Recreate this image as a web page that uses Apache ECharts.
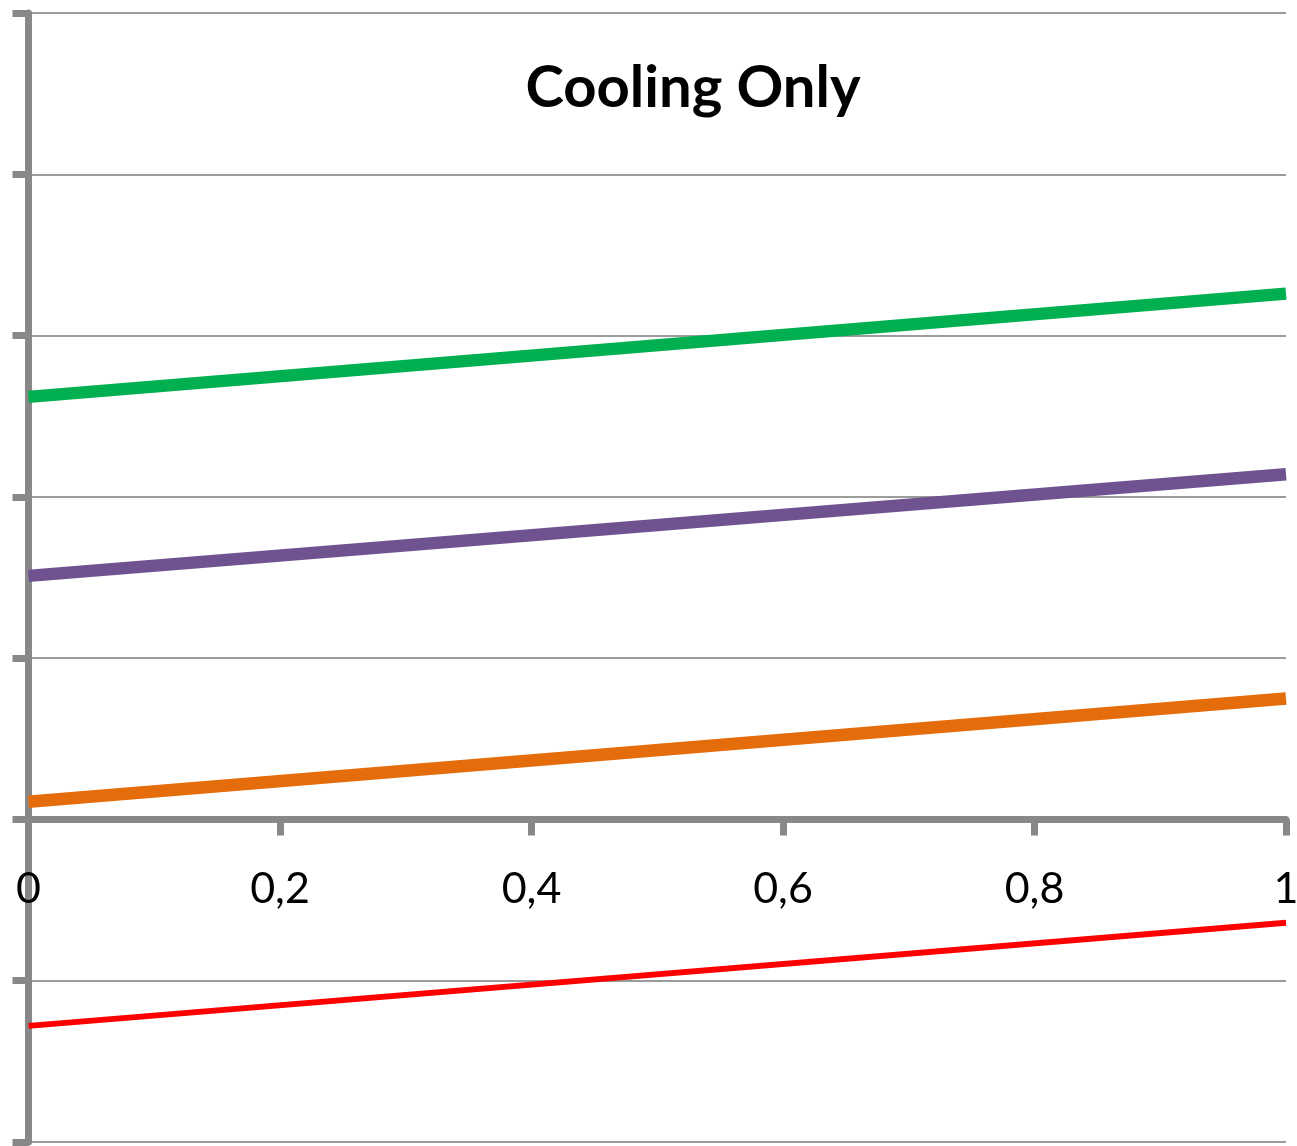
<!DOCTYPE html>
<html>
<head>
<meta charset="utf-8">
<title>Cooling Only</title>
<script src="https://cdn.jsdelivr.net/npm/echarts@6/dist/echarts.min.js"></script>
<style>
  html, body { margin: 0; padding: 0; background: #ffffff; }
  #chart { width: 1297px; height: 1146px; }
</style>
</head>
<body>
<div id="chart"></div>
<script>
// Shares on the horizontal axis (0 to 1)
const xValues = [0, 1];

// One line per series, values at x = 0 and x = 1
const greenValues = [2.62, 3.26];
const purpleValues = [1.51, 2.14];
const orangeValues = [0.11, 0.75];
const redValues = [-1.28, -0.64];

const titleText = 'Cooling Only';

function pairs(ys) {
  return xValues.map((x, i) => [x, ys[i]]);
}

const axisGrey = '#888888';
const yMin = -2;
const yMax = 5;
const gridTop = 13;
const gridBottom = 4;
const plotHeight = 1146 - gridTop - gridBottom;
// lift the horizontal axis from the grid bottom up to y = 0
const xAxisOffset = -plotHeight * (0 - yMin) / (yMax - yMin);

const chart = echarts.init(document.getElementById('chart'), null, { renderer: 'canvas' });

chart.setOption({
  backgroundColor: '#ffffff',
  animation: false,
  title: {
    text: titleText,
    left: 688,
    top: 54,
    textAlign: 'center',
    textStyle: {
      fontFamily: 'Lato',
      fontWeight: 'bold',
      fontSize: 58,
      color: '#000000'
    }
  },
  grid: {
    left: 28.5,
    right: 11,
    top: gridTop,
    bottom: gridBottom,
    containLabel: false,
    outerBoundsMode: 'none'
  },
  xAxis: {
    type: 'value',
    min: 0,
    max: 1,
    interval: 0.2,
    offset: xAxisOffset,
    axisLine: {
      show: true,
      onZero: false,
      lineStyle: { color: axisGrey, width: 7 }
    },
    axisTick: {
      show: true,
      inside: false,
      length: 16,
      lineStyle: { color: axisGrey, width: 7 }
    },
    axisLabel: {
      show: true,
      margin: 48,
      fontFamily: 'Lato',
      fontSize: 43,
      color: '#000000',
      formatter: v => String(+v.toFixed(1)).replace('.', ',')
    },
    splitLine: { show: false }
  },
  yAxis: {
    type: 'value',
    min: yMin,
    max: yMax,
    interval: 1,
    axisLine: {
      show: true,
      onZero: false,
      lineStyle: { color: axisGrey, width: 7 }
    },
    axisTick: {
      show: true,
      inside: false,
      length: 16,
      lineStyle: { color: axisGrey, width: 7 }
    },
    axisLabel: { show: false },
    splitLine: {
      show: true,
      lineStyle: { color: '#9c9c9c', width: 2 }
    }
  },
  series: [
    {
      type: 'line',
      data: pairs(greenValues),
      showSymbol: false,
      clip: false,
      lineStyle: { color: '#00B050', width: 12.5 }
    },
    {
      type: 'line',
      data: pairs(purpleValues),
      showSymbol: false,
      clip: false,
      lineStyle: { color: '#6E5390', width: 12.5 }
    },
    {
      type: 'line',
      data: pairs(orangeValues),
      showSymbol: false,
      clip: false,
      lineStyle: { color: '#E46C0A', width: 12.5 }
    },
    {
      type: 'line',
      data: pairs(redValues),
      showSymbol: false,
      clip: false,
      lineStyle: { color: '#FF0000', width: 6 }
    }
  ]
});
</script>
</body>
</html>
